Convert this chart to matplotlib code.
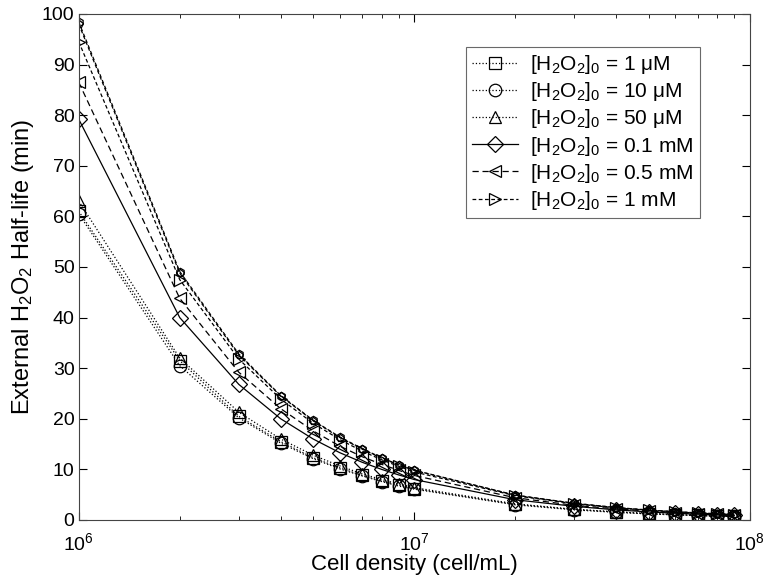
import numpy as np
import matplotlib
matplotlib.use('Agg')
import matplotlib.pyplot as plt

plt.rcParams['font.family'] = ['Liberation Sans', 'DejaVu Sans']
plt.rcParams['mathtext.fontset'] = 'custom'
plt.rcParams['mathtext.rm'] = 'Liberation Sans'
plt.rcParams['mathtext.it'] = 'Liberation Sans:italic'

# cell densities (cell/mL)
density = [1e6, 2e6, 3e6, 4e6, 5e6, 6e6, 7e6, 8e6, 9e6,
           1e7, 2e7, 3e7, 4e7, 5e7, 6e7, 7e7, 8e7, 9e7]

# half-life (min)
h_1uM = [61.0, 31.5, 20.5, 15.5, 12.3, 10.3, 8.8, 7.7, 6.9,
         6.2, 3.1, 2.1, 1.6, 1.25, 1.05, 0.9, 0.8, 0.7]
h_10uM = [60.5, 30.5, 20.2, 15.2, 12.1, 10.1, 8.7, 7.6, 6.7,
          6.1, 3.0, 2.0, 1.5, 1.2, 1.0, 0.87, 0.76, 0.68]
h_50uM = [63.0, 32.0, 21.3, 16.0, 12.8, 10.7, 9.1, 8.0, 7.1,
          6.4, 3.2, 2.1, 1.6, 1.3, 1.07, 0.92, 0.8, 0.71]
h_01mM = [79.2, 40.0, 26.8, 20.0, 16.0, 13.3, 11.4, 10.0, 8.9,
          8.0, 4.0, 2.7, 2.0, 1.6, 1.33, 1.14, 1.0, 0.89]
h_05mM = [86.5, 43.8, 29.2, 22.0, 17.6, 14.6, 12.5, 11.0, 9.8,
          8.8, 4.4, 2.9, 2.2, 1.76, 1.47, 1.26, 1.1, 0.98]
h_1mM = [94.5, 47.5, 31.8, 23.9, 19.1, 15.9, 13.6, 11.9, 10.6,
         9.5, 4.8, 3.2, 2.4, 1.9, 1.6, 1.36, 1.19, 1.06]
# two more curves drawn without legend entries (small star markers)
h_extra1 = [98.0, 48.8, 32.6, 24.5, 19.6, 16.3, 14.0, 12.2, 10.9,
            9.8, 4.9, 3.3, 2.45, 1.96, 1.63, 1.4, 1.22, 1.09]
h_extra2 = [98.4, 49.1, 32.8, 24.6, 19.7, 16.4, 14.1, 12.3, 10.9,
            9.85, 4.92, 3.3, 2.46, 1.97, 1.64, 1.41, 1.23, 1.1]

labels = ['[H$_2$O$_2$]$_0$ = 1 \u03bcM', '[H$_2$O$_2$]$_0$ = 10 \u03bcM',
          '[H$_2$O$_2$]$_0$ = 50 \u03bcM', '[H$_2$O$_2$]$_0$ = 0.1 mM',
          '[H$_2$O$_2$]$_0$ = 0.5 mM', '[H$_2$O$_2$]$_0$ = 1 mM']

fig = plt.figure(figsize=(7.72, 5.81), dpi=100)
ax = fig.add_axes([0.102, 0.105, 0.869, 0.871])

mk = dict(color='k', markerfacecolor='none', markeredgecolor='k', lw=0.9, mew=0.9)
ax.plot(density, h_extra2, ls=(0, (3, 2)), marker='h', ms=6, **mk)
ax.plot(density, h_extra1, ls=(0, (3, 2)), marker='p', ms=6, **mk)
ax.plot(density, h_1uM, ls=':', marker='s', ms=9, label=labels[0], **mk)
ax.plot(density, h_10uM, ls=':', marker='o', ms=9, label=labels[1], **mk)
ax.plot(density, h_50uM, ls=':', marker='^', ms=9, label=labels[2], **mk)
ax.plot(density, h_01mM, ls='-', marker='D', ms=8, label=labels[3], **mk)
ax.plot(density, h_05mM, ls=(0, (5, 3)), marker='<', ms=9, label=labels[4], **mk)
ax.plot(density, h_1mM, ls=(0, (3, 2)), marker='>', ms=9, label=labels[5], **mk)

ax.set_xscale('log')
ax.set_xlim(1e6, 1e8)
ax.set_ylim(0, 100)
ax.set_yticks(np.arange(0, 101, 10))
ax.tick_params(which='both', direction='in', top=True, right=True, labelsize=14)
ax.tick_params(which='major', length=6)
ax.tick_params(which='minor', length=3)
ax.tick_params(axis='x', pad=9)
ax.tick_params(axis='y', pad=3)
for s in ax.spines.values():
    s.set_linewidth(0.8)
    s.set_color('#444444')

ax.set_xlabel('Cell density (cell/mL)', fontsize=16, labelpad=0)
ax.set_ylabel('External H$_2$O$_2$ Half-life (min)', fontsize=17, labelpad=4)

handles, labs = ax.get_legend_handles_labels()
leg = ax.legend(handles, labs, loc='upper right', bbox_to_anchor=(0.926, 0.935),
                borderaxespad=0, fontsize=15, frameon=True, fancybox=False,
                edgecolor='#444444', handlelength=2.2, labelspacing=0.2,
                borderpad=0.3, handletextpad=0.6)
leg.get_frame().set_linewidth(0.8)

fig.savefig('out.png', dpi=100)
